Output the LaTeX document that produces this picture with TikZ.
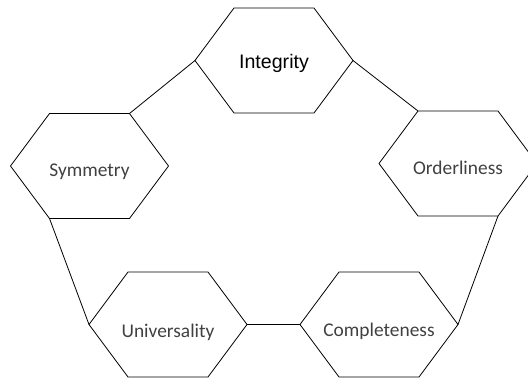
\documentclass[tikz,border=0pt]{standalone}
\usepackage{fontspec}
\setmainfont{Carlito}
\newfontfamily\arialfont{Liberation Sans}
\definecolor{txtgray}{HTML}{404040}
\tikzset{
  hexline/.style={draw=black, line width=0.8pt, line join=miter},
  hexlabel/.style={inner sep=0pt, anchor=base, font=\fontsize{19.4}{22}\selectfont, text=txtgray},
  link/.style={draw=black, line width=0.8pt}
}
% #1 options, #2 name, #3 x, #4 y (centre), #5 baseline y, #6 text
\newcommand{\hexnode}[6][]{%
  \coordinate (#2-c) at (#3,#4);
  \node[hexlabel,#1] (#2) at (#3,#5) {#6};
  \coordinate (#2-l)  at (#3-79,#4);
  \coordinate (#2-r)  at (#3+79,#4);
  \coordinate (#2-tl) at (#3-40,#4-52.5);
  \coordinate (#2-tr) at (#3+40,#4-52.5);
  \coordinate (#2-bl) at (#3-40,#4+52.5);
  \coordinate (#2-br) at (#3+40,#4+52.5);
  \draw[hexline] (#2-l) -- (#2-tl) -- (#2-tr) -- (#2-r) -- (#2-br) -- (#2-bl) -- cycle;
}
\begin{document}
\begin{tikzpicture}[x=1pt,y=-1pt]
  \useasboundingbox (0,0) rectangle (528,378);
  \clip (0,0) rectangle (528,378);
  \hexnode[font=\arialfont\fontsize{19.6}{22}\selectfont, text=black]{int}{274}{60.5}{68.3}{Integrity}
  \hexnode{sym}{89.5}{166}{176.7}{Symmetry}
  \hexnode{ord}{458}{163.5}{174.3}{Orderliness}
  \hexnode{uni}{168}{324.5}{337.7}{Universality}
  \hexnode{com}{379}{324.5}{336.7}{Completeness}
  \draw[link] (sym-tr) -- (int-l);
  \draw[link] (int-r) -- (ord-tl);
  \draw[link] (sym-bl) -- (uni-l);
  \draw[link] (uni-r) -- (com-l);
  \draw[link] (com-r) -- (ord-br);
\end{tikzpicture}
\end{document}
